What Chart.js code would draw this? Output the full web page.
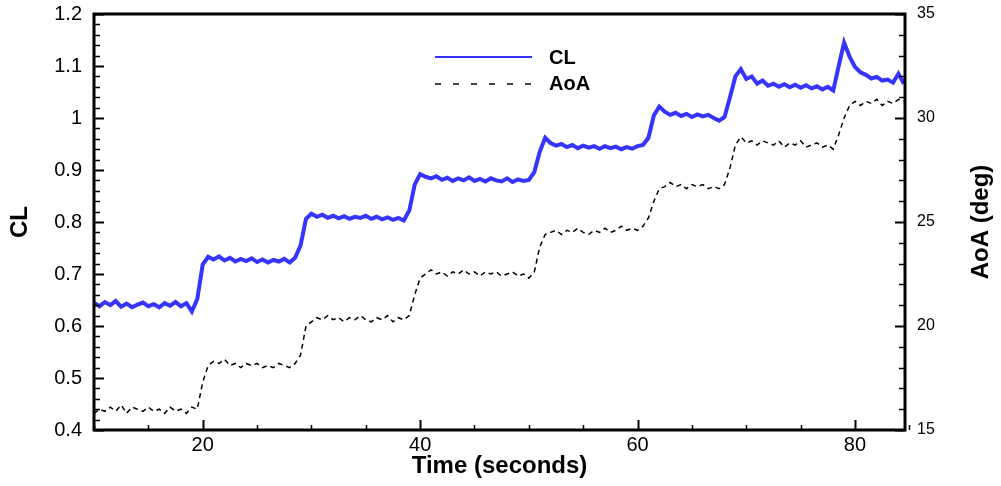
<!DOCTYPE html>
<html>
<head>
<meta charset="utf-8">
<script src="https://cdn.jsdelivr.net/npm/chart.js@4.4.1/dist/chart.umd.min.js"></script>
<style>
html,body{margin:0;padding:0;background:#fff;}
#wrap{width:1001px;height:486px;position:relative;}
</style>
</head>
<body>
<div id="wrap"><canvas id="c" width="1001" height="486"></canvas></div>
<script>
// ---- data ----
const timeSec = [
  10.0,10.5,11.0,11.5,12.0,12.5,13.0,13.5,14.0,14.5,
  15.0,15.5,16.0,16.5,17.0,17.5,18.0,18.5,19.0,19.5,
  20.0,20.5,21.0,21.5,22.0,22.5,23.0,23.5,24.0,24.5,
  25.0,25.5,26.0,26.5,27.0,27.5,28.0,28.5,29.0,29.5,
  30.0,30.5,31.0,31.5,32.0,32.5,33.0,33.5,34.0,34.5,
  35.0,35.5,36.0,36.5,37.0,37.5,38.0,38.5,39.0,39.5,
  40.0,40.5,41.0,41.5,42.0,42.5,43.0,43.5,44.0,44.5,
  45.0,45.5,46.0,46.5,47.0,47.5,48.0,48.5,49.0,49.5,
  50.0,50.5,51.0,51.5,52.0,52.5,53.0,53.5,54.0,54.5,
  55.0,55.5,56.0,56.5,57.0,57.5,58.0,58.5,59.0,59.5,
  60.0,60.5,61.0,61.5,62.0,62.5,63.0,63.5,64.0,64.5,
  65.0,65.5,66.0,66.5,67.0,67.5,68.0,68.5,69.0,69.5,
  70.0,70.5,71.0,71.5,72.0,72.5,73.0,73.5,74.0,74.5,
  75.0,75.5,76.0,76.5,77.0,77.5,78.0,78.5,79.0,79.5,
  80.0,80.5,81.0,81.5,82.0,82.5,83.0,83.5,84.0,84.5
];
const clValues = [
  0.645,0.638,0.646,0.640,0.648,0.637,0.643,0.636,0.641,0.645,
  0.638,0.642,0.636,0.644,0.639,0.646,0.638,0.644,0.628,0.652,
  0.718,0.733,0.728,0.734,0.726,0.731,0.724,0.729,0.725,0.730,
  0.723,0.728,0.722,0.727,0.724,0.729,0.722,0.731,0.755,0.806,
  0.816,0.810,0.814,0.808,0.812,0.807,0.811,0.806,0.810,0.808,
  0.812,0.806,0.810,0.805,0.809,0.804,0.808,0.803,0.822,0.872,
  0.892,0.887,0.884,0.888,0.881,0.885,0.879,0.884,0.880,0.886,
  0.879,0.883,0.878,0.884,0.880,0.878,0.884,0.877,0.882,0.879,
  0.881,0.896,0.935,0.962,0.952,0.947,0.950,0.944,0.948,0.942,
  0.947,0.943,0.946,0.941,0.946,0.942,0.945,0.940,0.944,0.941,
  0.946,0.948,0.962,1.005,1.022,1.012,1.006,1.010,1.004,1.008,
  1.002,1.007,1.003,1.006,1.000,0.995,1.002,1.040,1.080,1.094,
  1.075,1.080,1.066,1.072,1.062,1.066,1.060,1.065,1.059,1.064,
  1.058,1.063,1.057,1.061,1.055,1.060,1.053,1.100,1.145,1.118,
  1.098,1.088,1.083,1.076,1.079,1.072,1.074,1.068,1.085,1.066
];
const aoaValues = [
  15.8,16.0,15.9,16.1,15.9,16.2,15.8,16.1,16.0,15.9,
  16.1,15.9,16.0,15.8,16.1,15.9,16.0,15.8,16.1,16.0,
  17.3,18.1,18.3,18.2,18.4,18.1,18.2,18.0,18.2,18.1,
  18.2,18.0,18.1,18.0,18.2,18.1,18.0,18.2,18.6,20.0,
  20.2,20.4,20.3,20.5,20.3,20.4,20.2,20.4,20.3,20.5,
  20.3,20.2,20.4,20.3,20.5,20.2,20.4,20.3,20.5,21.5,
  22.3,22.5,22.7,22.5,22.6,22.4,22.6,22.5,22.7,22.5,
  22.6,22.4,22.6,22.5,22.6,22.4,22.5,22.6,22.4,22.5,
  22.3,22.6,23.8,24.4,24.5,24.6,24.4,24.6,24.5,24.7,
  24.5,24.4,24.6,24.5,24.7,24.5,24.6,24.8,24.6,24.7,
  24.6,24.8,25.2,26.0,26.6,26.7,26.9,26.7,26.8,26.6,
  26.8,26.7,26.8,26.6,26.7,26.6,26.8,27.6,28.7,29.1,
  28.8,28.9,28.7,28.9,28.8,28.7,28.9,28.6,28.8,28.7,
  28.9,28.6,28.7,28.8,28.6,28.7,28.5,29.2,30.0,30.6,
  30.8,30.6,30.8,30.7,30.9,30.6,30.8,30.7,30.9,30.8
];
const seriesNames = ['CL', 'AoA'];
const xTickLabels = [20, 40, 60, 80];
const clTickLabels = [0.4, 0.5, 0.6, 0.7, 0.8, 0.9, 1.0, 1.1, 1.2];
const aoaTickLabels = [15, 20, 25, 30, 35];

// ---- rendering ----
const FONT = '"Liberation Sans", Arial, Helvetica, sans-serif';

const framePlugin = {
  id: 'frame',
  afterDatasetsDraw(chart) {
    const {ctx, chartArea: a, scales} = chart;
    ctx.save();
    ctx.strokeStyle = '#000';
    ctx.lineCap = 'butt';
    for (let i = 0; i <= 15; i++) {
      const v = 10 + i * 5;
      const major = xTickLabels.includes(v);
      const px = Math.round(scales.x.getPixelForValue(v)) + 0.5;
      ctx.lineWidth = major ? 2 : 1.5;
      ctx.beginPath();
      ctx.moveTo(px, a.bottom);
      ctx.lineTo(px, a.bottom - (major ? 10 : 5));
      ctx.stroke();
    }
    for (let i = 0; i <= 40; i++) {
      const v = 0.4 + i * 0.02;
      const major = i % 5 === 0;
      const py = Math.round(scales.y.getPixelForValue(v)) + 0.5;
      ctx.lineWidth = major ? 2 : 1.5;
      ctx.beginPath();
      ctx.moveTo(a.left, py);
      ctx.lineTo(a.left + (major ? 10 : 6), py);
      ctx.stroke();
    }
    for (let i = 0; i <= 20; i++) {
      const v = 15 + i;
      const major = i % 5 === 0;
      const py = Math.round(scales.y2.getPixelForValue(v)) + 0.5;
      ctx.lineWidth = major ? 2 : 1.5;
      ctx.beginPath();
      ctx.moveTo(a.right, py);
      ctx.lineTo(a.right - (major ? 10 : 6), py);
      ctx.stroke();
    }
    ctx.lineWidth = 3;
    ctx.strokeRect(a.left, a.top, a.right - a.left, a.bottom - a.top);

    // legend
    ctx.lineWidth = 2.2;
    ctx.strokeStyle = '#3333ff';
    ctx.beginPath(); ctx.moveTo(435, 57); ctx.lineTo(532, 57); ctx.stroke();
    ctx.strokeStyle = '#000';
    ctx.lineWidth = 1.5;
    ctx.setLineDash([6, 12]);
    ctx.beginPath(); ctx.moveTo(435, 84); ctx.lineTo(532, 84); ctx.stroke();
    ctx.setLineDash([]);
    ctx.fillStyle = '#000';
    ctx.font = 'bold 20px ' + FONT;
    ctx.textAlign = 'left';
    ctx.textBaseline = 'middle';
    ctx.fillText(seriesNames[0], 549, 58);
    ctx.fillText(seriesNames[1], 549, 84);

    // right axis title (reads bottom to top)
    ctx.save();
    ctx.translate(981, (a.top + a.bottom) / 2);
    ctx.rotate(-Math.PI / 2);
    ctx.font = 'bold 24px ' + FONT;
    ctx.textAlign = 'center';
    ctx.textBaseline = 'middle';
    ctx.fillText('AoA (deg)', 0, 0);
    ctx.restore();

    ctx.restore();
  }
};

const clData = timeSec.map((t, i) => ({x: t, y: clValues[i]}));
const aoaData = timeSec.map((t, i) => ({x: t, y: aoaValues[i]}));

const noPad = s => { s.paddingTop = 0; s.paddingBottom = 0; };

new Chart(document.getElementById('c'), {
  type: 'line',
  data: {
    datasets: [
      {
        label: seriesNames[0],
        data: clData,
        yAxisID: 'y',
        borderColor: '#3535ff',
        borderWidth: 4,
        pointRadius: 0,
        tension: 0,
        fill: false
      },
      {
        label: seriesNames[1],
        data: aoaData,
        yAxisID: 'y2',
        borderColor: '#000000',
        borderWidth: 1.5,
        borderDash: [5, 4],
        pointRadius: 0,
        tension: 0,
        fill: false
      }
    ]
  },
  options: {
    responsive: false,
    animation: false,
    devicePixelRatio: 1,
    layout: {padding: {top: 14, left: 0, right: 0, bottom: 0}},
    plugins: {legend: {display: false}, tooltip: {enabled: false}},
    scales: {
      x: {
        type: 'linear',
        min: 10,
        max: 84.6,
        grid: {display: false, drawTicks: false},
        border: {display: false},
        afterBuildTicks: s => { s.ticks = xTickLabels.map(v => ({value: v})); },
        afterFit: s => { s.height = 56; s.paddingLeft = 0; s.paddingRight = 0; },
        ticks: {
          autoSkip: false, maxRotation: 0, padding: 3,
          color: '#000', font: {family: FONT, size: 20}
        },
        title: {
          display: true, text: 'Time (seconds)', color: '#000',
          font: {family: FONT, size: 24, weight: 'bold'},
          padding: {top: 0, bottom: 5}
        }
      },
      y: {
        type: 'linear',
        position: 'left',
        min: 0.4,
        max: 1.2,
        grid: {display: false, drawTicks: false},
        border: {display: false},
        afterBuildTicks: s => { s.ticks = clTickLabels.map(v => ({value: v})); },
        afterFit: s => { s.width = 94; noPad(s); },
        ticks: {
          padding: 12, color: '#000', font: {family: FONT, size: 20},
          callback: v => String(Math.round(v * 10) / 10)
        },
        title: {
          display: true, text: 'CL', color: '#000',
          font: {family: FONT, size: 24, weight: 'bold'},
          padding: {top: 6, bottom: 0}
        }
      },
      y2: {
        type: 'linear',
        position: 'right',
        min: 15,
        max: 35,
        grid: {display: false, drawTicks: false},
        border: {display: false},
        afterBuildTicks: s => { s.ticks = aoaTickLabels.map(v => ({value: v})); },
        afterFit: s => { s.width = 96; noPad(s); },
        ticks: {
          padding: 12, color: '#000', font: {family: FONT, size: 16},
          callback: v => String(v)
        }
      }
    }
  },
  plugins: [framePlugin]
});
</script>
</body>
</html>
